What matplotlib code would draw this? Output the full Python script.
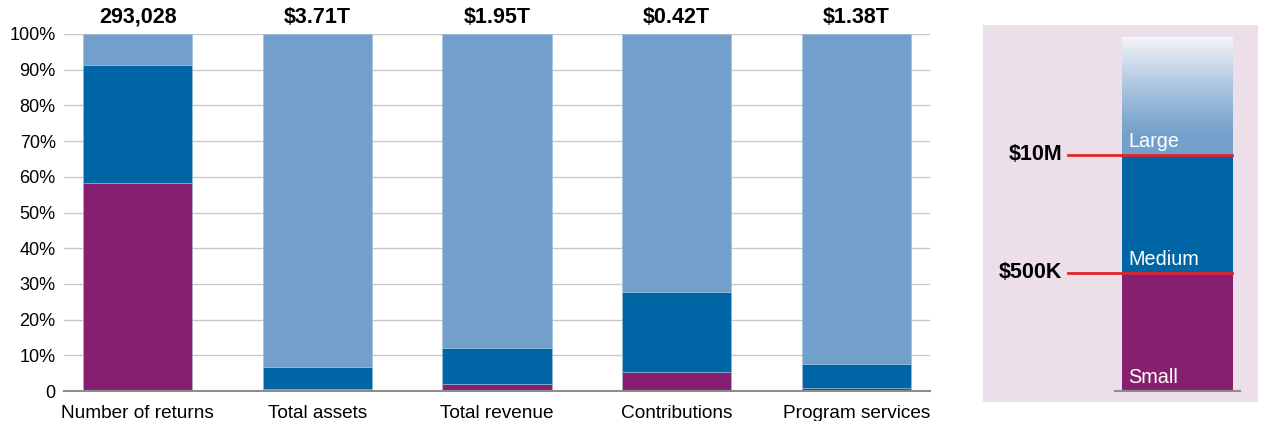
import numpy as np
from matplotlib import pyplot as plt
from matplotlib.colors import to_rgb

plt.rcParams["font.family"] = ["Liberation Sans", "DejaVu Sans"]

# data (shares in %)
categories = ["Number of returns", "Total assets", "Total revenue", "Contributions", "Program services"]
totals = ["293,028", "$3.71T", "$1.95T", "$0.42T", "$1.38T"]
small = [58.3, 0.6, 2.0, 5.4, 0.9]
medium = [33.0, 6.1, 10.1, 22.4, 6.7]
large = [8.7, 93.3, 87.9, 72.2, 92.4]

size_names = ["Small", "Medium", "Large"]
thresholds = ["$500K", "$10M"]
legend_shares = [1 / 3, 1 / 3, 1 / 3]

colors = {"Small": "#871F70", "Medium": "#0065A5", "Large": "#72A0CB"}

W, H = 1261, 421
fig = plt.figure(figsize=(W / 100, H / 100), dpi=100)


def px_axes(x0, y0, x1, y1):
    return fig.add_axes([x0 / W, 1 - y1 / H, (x1 - x0) / W, (y1 - y0) / H])


# main stacked chart
ax = px_axes(64, 34, 930, 391)
x = np.arange(len(categories))
bw = 0.61
bottom = np.zeros(len(categories))
for name, vals in zip(size_names, [small, medium, large]):
    ax.bar(x, vals, bw, bottom=bottom, color=colors[name], zorder=2,
           edgecolor="#9dbddb", linewidth=0.4)
    bottom += np.array(vals)

ax.set_xlim(-0.41, 4.41)
ax.set_ylim(0, 100)
ax.set_yticks(np.arange(0, 101, 10))
ax.set_yticklabels(["0"] + [f"{v}%" for v in range(10, 101, 10)], fontsize=13)
ax.set_xticks(x)
ax.set_xticklabels(categories, fontsize=13.7)
ax.tick_params(length=0, pad=6)
ax.tick_params(axis="x", pad=10)
ax.grid(axis="y", color="#c8c8c8", linewidth=1, zorder=0)
for s in ["top", "left", "right"]:
    ax.spines[s].set_visible(False)
ax.spines["bottom"].set_color("#8c8c8c")
ax.spines["bottom"].set_linewidth(1.5)
ax.spines["bottom"].set_zorder(3)

for xi, t in zip(x, totals):
    ax.text(xi, 101.8, t, ha="center", va="bottom", fontsize=15.5, fontweight="bold")

# legend panel
lg = px_axes(983, 25, 1258, 402)
lg.set_xlim(0, 275)
lg.set_ylim(-11 / 354, 366 / 354)
lg.set_facecolor("#ECDFEA")
for s in lg.spines.values():
    s.set_visible(False)
lg.set_xticks([])
lg.set_yticks([])

bx0, bx1 = 139, 250
cum = np.concatenate([[0], np.cumsum(legend_shares)])
for i, name in enumerate(size_names[:2]):
    lg.bar((bx0 + bx1) / 2, legend_shares[i], bx1 - bx0, bottom=cum[i],
           color=colors[name], zorder=2)

# faded top segment
n = 200
frac = np.linspace(0, 1, n)[:, None]
base = np.array(to_rgb(colors["Large"]))
top = np.array([0.96, 0.96, 0.98])
mix = np.clip((frac - 0.15) / 0.85, 0, 1) ** 1.2
grad = (1 - mix)[..., None] * base + mix[..., None] * top
grad = np.repeat(grad, 2, axis=1)
lg.imshow(grad, extent=(bx0, bx1, cum[2], cum[3]), origin="lower", aspect="auto", zorder=2)

lg.plot([132, 257], [0, 0], color="#8c8c8c", linewidth=1.5, zorder=3)

for i, th in enumerate(thresholds):
    yv = cum[i + 1]
    lg.plot([85, 249], [yv, yv], color="#E3242B", linewidth=2, zorder=3)
    lg.text(79, yv, th, ha="right", va="center", fontsize=15.5, fontweight="bold")

for i, name in enumerate(size_names):
    lg.text(145, cum[i] + 0.012, name, ha="left", va="bottom", color="white", fontsize=14.3, zorder=4)

fig.savefig("out.png", dpi=100)
